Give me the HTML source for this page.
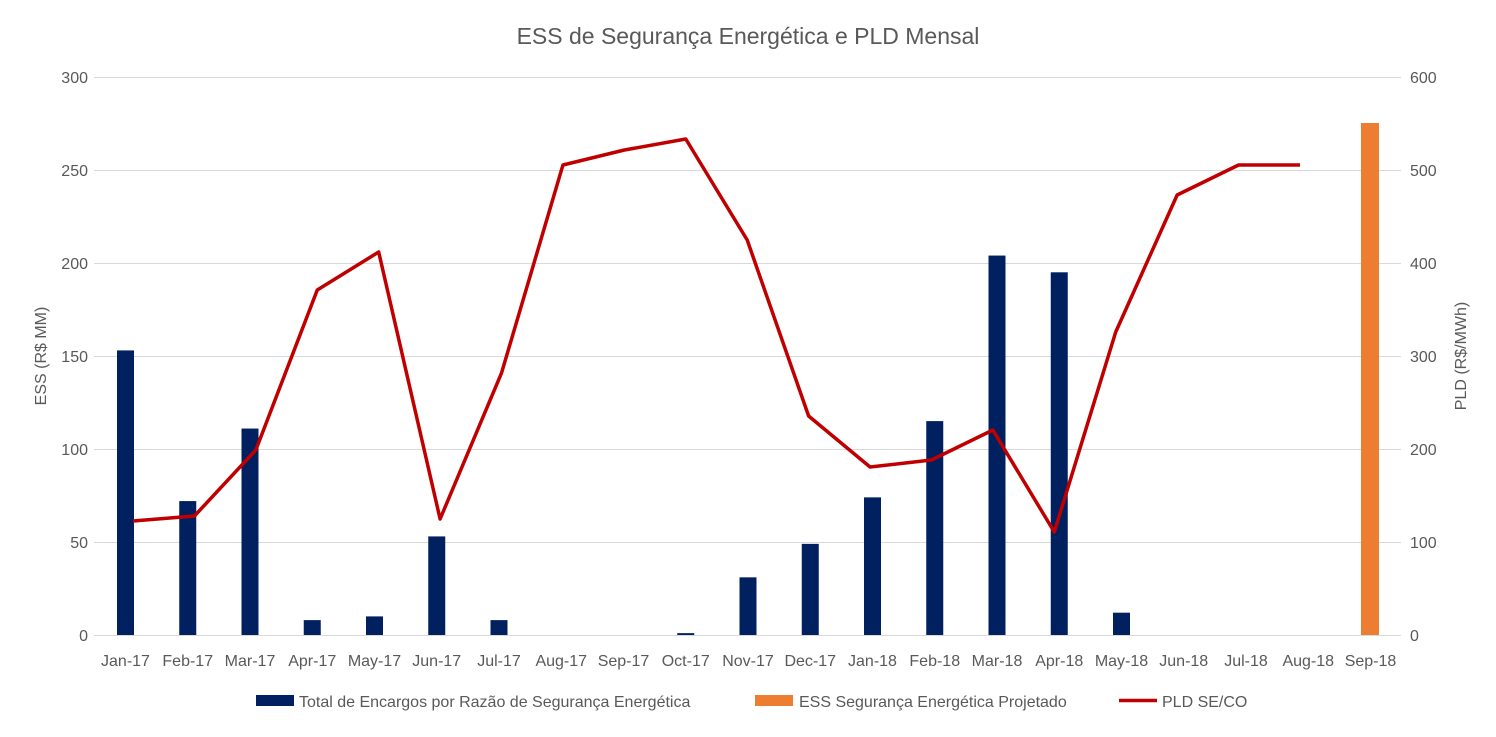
<!DOCTYPE html>
<html><head><meta charset="utf-8"><style>
body{margin:0;background:#fff}
svg text{font-family:"Liberation Sans",sans-serif;fill:#595959}
</style></head><body>
<svg width="1496" height="732" xmlns="http://www.w3.org/2000/svg">
<rect width="1496" height="732" fill="#fff"/>
<text x="748" y="44" font-size="23" text-anchor="middle">ESS de Segurança Energética e PLD Mensal</text>
<g stroke="#d9d9d9" stroke-width="1">
<line x1="94" x2="1401" y1="77.5" y2="77.5"/><line x1="94" x2="1401" y1="170.5" y2="170.5"/>
<line x1="94" x2="1401" y1="263.5" y2="263.5"/><line x1="94" x2="1401" y1="356.5" y2="356.5"/>
<line x1="94" x2="1401" y1="449.5" y2="449.5"/><line x1="94" x2="1401" y1="542.5" y2="542.5"/>
<line x1="94" x2="1401" y1="635.5" y2="635.5"/>
</g>
<g font-size="16" text-anchor="end">
<text x="88" y="83">300</text><text x="88" y="176">250</text><text x="88" y="269">200</text>
<text x="88" y="362">150</text><text x="88" y="455">100</text><text x="88" y="548">50</text><text x="88" y="641">0</text>
</g>
<g font-size="16" text-anchor="start">
<text x="1410" y="83">600</text><text x="1410" y="176">500</text><text x="1410" y="269">400</text>
<text x="1410" y="362">300</text><text x="1410" y="455">200</text><text x="1410" y="548">100</text><text x="1410" y="641">0</text>
</g>
<text font-size="16" transform="translate(46,356) rotate(-90)" text-anchor="middle">ESS (R$ MM)</text>
<text font-size="16" transform="translate(1466,356) rotate(-90)" text-anchor="middle">PLD (R$/MWh)</text>
<g fill="#002060" id="bars"></g>
<rect x="1361" y="123" width="18" height="512" fill="#ed7d31"/>
<polyline id="line" fill="none" stroke="#c00000" stroke-width="3.5" stroke-linejoin="round"/>
<g id="xl" font-size="16" text-anchor="middle"></g>
<g font-size="16">
<rect x="256" y="695" width="38" height="11" fill="#002060"/><text x="299" y="707">Total de Encargos por Razão de Segurança Energética</text>
<rect x="755" y="695" width="38" height="11" fill="#ed7d31"/><text x="799" y="707">ESS Segurança Energética Projetado</text>
<line x1="1119" x2="1157" y1="700.5" y2="700.5" stroke="#c00000" stroke-width="3.5"/><text x="1162" y="707">PLD SE/CO</text>
</g>
</svg>
<script>
var labels=["Jan-17","Feb-17","Mar-17","Apr-17","May-17","Jun-17","Jul-17","Aug-17","Sep-17","Oct-17","Nov-17","Dec-17","Jan-18","Feb-18","Mar-18","Apr-18","May-18","Jun-18","Jul-18","Aug-18","Sep-18"];
var vals=[153,72,111,8,10,53,8,0,0,1,31,49,74,115,204,195,12,0,0,0,0];
var ly=[521,516,450,290,252,519,373,165,150,139,240,416,467,460,430,532,332,195,165,165];
var ns="http://www.w3.org/2000/svg",b=document.getElementById("bars"),xl=document.getElementById("xl"),pts=[];
for(var i=0;i<21;i++){var cx=125.5+i*62.25;
 if(vals[i]>0){var r=document.createElementNS(ns,"rect");var h=vals[i]*1.86;r.setAttribute("x",cx-8.5);r.setAttribute("y",635-h);r.setAttribute("width",17);r.setAttribute("height",h);b.appendChild(r);}
 var t=document.createElementNS(ns,"text");t.setAttribute("x",cx);t.setAttribute("y",666);t.textContent=labels[i];xl.appendChild(t);
 if(i<20)pts.push((133+i*61.42)+","+ly[i]);}
document.getElementById("line").setAttribute("points",pts.join(" "));
</script>
</body></html>
